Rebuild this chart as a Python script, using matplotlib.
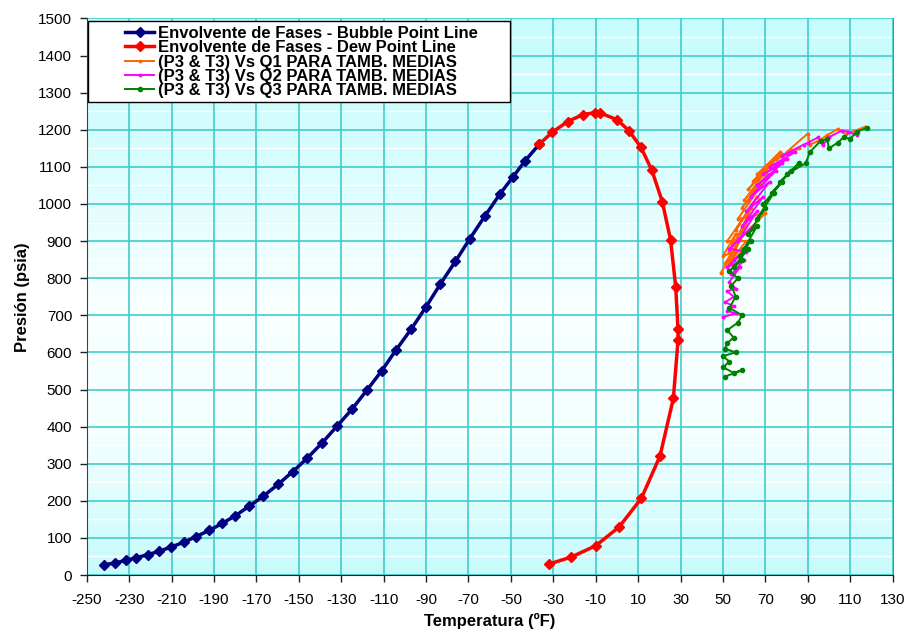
import numpy as np
import matplotlib
matplotlib.use("Agg")
import matplotlib.pyplot as plt
from matplotlib.patches import Rectangle
from matplotlib.colors import LinearSegmentedColormap

plt.rcParams['font.family'] = ['Liberation Sans', 'DejaVu Sans']
plt.rcParams['axes.unicode_minus'] = False

# ---- Data ----
bubble_T = [-241.7, -236.7, -231.6, -226.6, -221.3, -215.9, -210.3, -204.3, -198.6, -192.2,
            -186.1, -179.9, -173.3, -166.9, -159.8, -152.9, -146.0, -139.1, -132.1, -124.9,
            -118.0, -110.9, -104.2, -96.9, -90.0, -83.3, -76.2, -69.4, -62.2, -55.1,
            -49.0, -43.2, -36.6]
bubble_P = [27.8, 32.3, 39.5, 46.7, 54.8, 63.8, 75.4, 88.0, 103.3, 120.3,
            139.2, 159.9, 185.9, 211.9, 244.3, 278.4, 315.2, 355.6, 400.5, 447.2,
            497.5, 550.5, 606.2, 663.7, 722.9, 784.0, 845.1, 906.1, 968.1, 1027.4,
            1073.2, 1117.2, 1161.2]

dew_T = [-36.6, -30.5, -23.2, -16.0, -10.3, -8.0, 0.2, 5.7, 11.3, 16.5, 21.4, 25.3,
         27.7, 28.8, 28.8, 26.6, 20.3, 11.5, 1.0, -10.0, -21.5, -32.0]
dew_P = [1161.2, 1193.5, 1222.3, 1241.1, 1246.5, 1245.6, 1226.8, 1197.1, 1153.1, 1090.3,
         1005.8, 902.6, 776.8, 661.9, 633.1, 476.0, 320.6, 206.6, 129.3, 79.0, 48.5, 29.6]

q1_T = [49, 55, 51, 58, 52, 60, 50, 56, 53, 62, 54, 61, 52, 63, 56, 66, 55, 70, 57, 68,
        59, 71, 60, 73, 62, 75, 64, 77, 66, 78, 70, 82, 75, 86, 80, 90, 91, 95, 99, 104,
        108, 112, 117]
q1_P = [815, 870, 840, 905, 830, 880, 860, 920, 870, 960, 850, 900, 900, 990, 930, 1020,
        890, 975, 960, 1050, 990, 1080, 1010, 1110, 1040, 1125, 1060, 1140, 1080, 1135,
        1100, 1145, 1120, 1150, 1140, 1190, 1160, 1170, 1185, 1202, 1188, 1197, 1208]

q2_T = [50, 56, 52, 55, 51, 55, 52, 56, 53, 58, 54, 60, 52, 62, 55, 61, 53, 64, 57, 66,
        59, 69, 61, 72, 63, 75, 66, 78, 69, 80, 72, 84, 78, 88, 90, 95, 97, 100, 106, 109,
        113]
q2_P = [695, 705, 712, 725, 735, 750, 765, 772, 790, 830, 810, 850, 830, 880, 850, 870,
        880, 940, 900, 980, 940, 1020, 980, 1060, 1020, 1090, 1050, 1110, 1080, 1120,
        1100, 1140, 1130, 1160, 1165, 1180, 1158, 1180, 1198, 1195, 1185]

q3_T = [51, 59, 55, 50, 53, 50, 56, 51, 52, 55, 52, 57, 59, 53, 56, 54, 57, 53, 59, 55,
        62, 58, 63, 60, 66, 62, 70, 66, 74, 69, 78, 73, 82, 77, 86, 80, 89, 91, 96, 99,
        100, 104, 107, 110, 113, 118]
q3_P = [535, 552, 545, 560, 575, 590, 600, 610, 625, 640, 660, 680, 700, 720, 750, 780,
        800, 820, 850, 830, 880, 860, 900, 880, 940, 920, 990, 960, 1030, 1000, 1060, 1030,
        1090, 1060, 1110, 1080, 1110, 1140, 1170, 1175, 1150, 1165, 1180, 1175, 1195, 1205]

labels = ["Envolvente de Fases - Bubble Point Line",
          "Envolvente de Fases - Dew Point Line",
          "(P3 & T3) Vs Q1 PARA TAMB. MEDIAS",
          "(P3 & T3) Vs Q2 PARA TAMB. MEDIAS",
          "(P3 & T3) Vs Q3 PARA TAMB. MEDIAS"]

x_ticks = list(range(-250, 131, 20))
y_ticks = list(range(0, 1501, 100))

# ---- Figure ----
fig = plt.figure(figsize=(9.12, 6.33), dpi=100)
ax = fig.add_axes([0.0951, 0.0916, 0.9788 - 0.0951, 0.9708 - 0.0916])
ax.set_xlim(-250, 130)
ax.set_ylim(0, 1500)

# background gradient
cmap = LinearSegmentedColormap.from_list("bg", ["#c6fbfb", "#f4ffff", "#f8ffff", "#d8fdfd", "#c8fcfc"])
grad = np.linspace(0, 1, 256).reshape(-1, 1)
ax.imshow(grad, extent=(-250, 130, 0, 1500), aspect='auto', cmap=cmap, origin='lower', zorder=0)

# white minor horizontal lines
for y in range(50, 1500, 100):
    ax.axhline(y, color='white', lw=1.0, zorder=0.5)

ax.set_xticks(x_ticks)
ax.set_yticks(y_ticks)
ax.grid(True, color='#40cccc', lw=1.2, zorder=1)
ax.set_axisbelow(True)

ax.plot(bubble_T, bubble_P, color='#000080', lw=2.5, marker='D', ms=5, zorder=5, label=labels[0])
ax.plot(dew_T, dew_P, color='#ff0000', lw=2.5, marker='D', ms=5, zorder=5, label=labels[1])
ax.plot(q1_T, q1_P, color='#ff6600', lw=1.4, marker='o', ms=1.8, zorder=4, label=labels[2])
ax.plot(q2_T, q2_P, color='#ff00ff', lw=1.4, marker='o', ms=1.8, zorder=4, label=labels[3])
ax.plot(q3_T, q3_P, color='#008000', lw=1.4, marker='o', ms=3, zorder=4, label=labels[4])

ax.spines['top'].set_visible(False)
ax.spines['right'].set_color('#808080')
ax.spines['left'].set_color('#404040')
ax.spines['bottom'].set_color('#202020')
ax.tick_params(axis='both', labelsize=11, direction='out', length=5, width=1, color='#202020')
ax.tick_params(axis='x', pad=8)
ax.tick_params(axis='y', pad=5.5)

ax.set_xlabel("Temperatura (ºF)", fontsize=12, fontweight='bold', labelpad=4)
ax.set_ylabel("Presión (psia)", fontsize=12, fontweight='bold', labelpad=6)

leg = ax.legend(loc='upper left', bbox_to_anchor=(0.0475, 0.9865), frameon=False,
                prop={'weight': 'bold', 'size': 12}, labelspacing=-0.04,
                handlelength=1.75, handletextpad=0.25, borderpad=0.0, borderaxespad=0.0)
ax.add_patch(Rectangle((0.002, 0.850), 0.525 - 0.002, 0.9955 - 0.850, transform=ax.transAxes,
                       facecolor='white', edgecolor='black', lw=1.0, zorder=6))
leg.set_zorder(7)

fig.savefig("out.png", dpi=100)
